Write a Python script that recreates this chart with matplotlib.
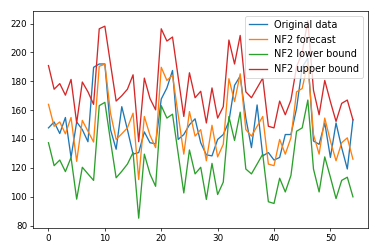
import matplotlib
matplotlib.use("Agg")
import matplotlib.pyplot as plt

original = [147.7, 151.8, 143.8, 154.9, 127.2, 151.8, 146.5, 138.1, 189.7, 192.0,
            192.0, 146.5, 132.9, 162.4, 146.5, 129.5, 130.6, 144.9, 137.4, 136.7,
            167.7, 175.4, 187.5, 139.7, 143.1, 149.9, 154.0, 137.4, 129.0, 128.3,
            139.7, 143.1, 152.2, 177.2, 183.6, 154.5, 134.0, 163.6, 128.3, 130.6,
            125.4, 127.2, 143.1, 143.1, 161.3, 189.7, 196.0, 138.6, 136.3, 151.1,
            127.2, 151.1, 134.0, 119.2, 153.3]
forecast = [164.0, 148.8, 151.8, 143.6, 154.9, 124.5, 152.9, 145.4, 137.9, 190.4,
            191.8, 157.9, 139.7, 143.6, 147.7, 157.9, 111.9, 155.6, 142.6, 134.0,
            189.7, 180.6, 184.1, 156.8, 129.5, 159.0, 142.0, 146.5, 124.9, 149.5,
            127.6, 136.3, 181.8, 165.9, 185.2, 146.5, 142.0, 148.8, 155.6, 122.6,
            121.5, 139.7, 129.5, 140.8, 172.7, 175.0, 193.2, 143.1, 129.5, 154.5,
            138.6, 124.9, 137.4, 140.8, 126.0]
lower = [137.4, 121.5, 125.4, 117.4, 127.2, 98.3, 120.4, 115.8, 111.3, 163.1,
         165.4, 138.6, 113.1, 117.6, 122.6, 130.6, 85.1, 129.5, 115.8, 107.2,
         163.1, 154.5, 157.2, 129.9, 102.6, 132.4, 115.8, 120.4, 98.1, 123.1,
         101.5, 110.1, 155.6, 139.0, 158.6, 119.2, 115.8, 122.6, 129.5, 96.5,
         95.3, 112.8, 103.3, 114.7, 145.4, 147.7, 167.0, 119.2, 103.3, 127.6,
         113.5, 98.7, 111.3, 113.5, 99.9]
upper = [190.9, 174.5, 178.4, 170.4, 181.3, 151.1, 179.5, 172.7, 164.0, 216.4,
         218.2, 192.0, 166.3, 170.0, 174.5, 184.5, 138.1, 182.2, 168.1, 160.2,
         216.4, 207.9, 210.7, 182.9, 155.6, 185.9, 168.6, 173.1, 151.1, 175.4,
         154.5, 162.4, 208.6, 192.0, 211.8, 172.7, 168.6, 175.4, 182.2, 148.8,
         147.7, 166.3, 156.8, 167.0, 190.0, 200.0, 222.0, 173.8, 156.8, 180.6,
         165.9, 152.2, 164.7, 167.0, 153.3]
labels = ["Original data", "NF2 forecast", "NF2 lower bound", "NF2 upper bound"]

fig = plt.figure(figsize=(6, 4), dpi=63)
ax = fig.add_axes([0.088, 0.095, 0.886, 0.862])
x = list(range(len(original)))
for series, lab in zip([original, forecast, lower, upper], labels):
    ax.plot(x, series, label=lab)
ax.set_yticks([80, 100, 120, 140, 160, 180, 200, 220])
ax.legend(loc="upper right", fontsize=11.2, handlelength=1.8)
fig.savefig("out.png", dpi=63)
